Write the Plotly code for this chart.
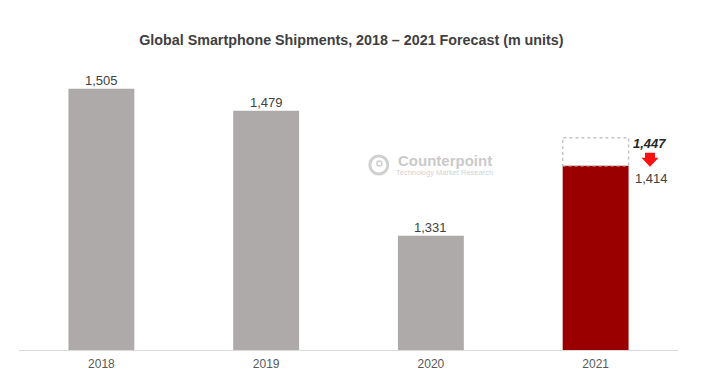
import plotly.graph_objects as go

years = ["2018", "2019", "2020", "2021"]
shipments = [1505, 1479, 1331, 1414]
bar_colors = ["#AEAAAA", "#AEAAAA", "#AEAAAA", "#9B0000"]
prior_forecast_2021 = 1447
value_labels = ["1,505", "1,479", "1,331", "1,414"]
prior_label = "1,447"

FONT = "Liberation Sans, Arial"

fig = go.Figure()
fig.add_trace(go.Bar(
    x=years, y=shipments, marker=dict(color=bar_colors, line=dict(width=0)),
    width=0.4, hoverinfo="x+y", showlegend=False,
))

# dashed box for previous forecast
fig.add_shape(type="rect", xref="x", yref="y",
              x0=3 - 0.2, x1=3 + 0.2, y0=shipments[3], y1=prior_forecast_2021,
              line=dict(color="#C4C4C4", width=1.5, dash="dot"), fillcolor="rgba(0,0,0,0)", layer="above")

# labels above bars (first three)
for i in range(3):
    fig.add_annotation(x=i, y=shipments[i], text=value_labels[i], showarrow=False, xref="x", yref="y",
                       yanchor="bottom", yshift=-1, font=dict(family=FONT, size=13, color="#404040"))

# 2021 labels to the right
fig.add_annotation(x=3.33, y=prior_forecast_2021, text="<b><i>" + prior_label + "</i></b>", showarrow=False,
                   xref="x", yref="y", yanchor="middle", yshift=-6,
                   font=dict(family=FONT, size=13, color="#262626"))
fig.add_annotation(x=3.34, y=shipments[3], text=value_labels[3], showarrow=False,
                   xref="x", yref="y", yanchor="middle", yshift=-13,
                   font=dict(family=FONT, size=13, color="#404040"))

# red block arrow
fig.add_shape(type="path", xref="x", yref="y", xsizemode="pixel", ysizemode="pixel",
              xanchor=3.33, yanchor=(shipments[3] + prior_forecast_2021) / 2,
              path="M -5 -1 L 5 -1 L 5 -6 L 8.5 -6 L 0 -15 L -8.5 -6 L -5 -6 Z",
              fillcolor="#FF1010", line=dict(width=0))

# watermark (Counterpoint logo)
fig.add_annotation(xref="paper", yref="paper", x=0.647, y=0.652, text="<b>Counterpoint</b>",
                   showarrow=False, font=dict(family=FONT, size=15, color="#CACACA"))
fig.add_annotation(xref="paper", yref="paper", x=0.645, y=0.612, text="Technology Market Research",
                   showarrow=False, font=dict(family=FONT, size=7.5, color="#D3D3D3"))
fig.add_shape(type="circle", xref="paper", yref="paper", xsizemode="pixel", ysizemode="pixel",
              xanchor=0.546, yanchor=0.638, x0=-9, x1=9, y0=-9, y1=9,
              line=dict(color="#D0D0D0", width=3), fillcolor="rgba(0,0,0,0)")
fig.add_shape(type="circle", xref="paper", yref="paper", xsizemode="pixel", ysizemode="pixel",
              xanchor=0.546, yanchor=0.638, x0=-2, x1=3, y0=-1, y1=4,
              line=dict(color="#D0D0D0", width=1.5), fillcolor="rgba(0,0,0,0)")

fig.update_layout(
    width=720, height=391,
    margin=dict(l=19, r=42, t=60, b=41, autoexpand=False),
    paper_bgcolor="white", plot_bgcolor="white",
    title=dict(text="<b>Global Smartphone Shipments, 2018 – 2021 Forecast (m units)</b>",
               x=0.488, xanchor="center", y=0.898, yanchor="middle",
               font=dict(family=FONT, size=14.3, color="#404040")),
    xaxis=dict(type="category", range=[-0.5, 3.5], showgrid=False, showline=True, automargin=False,
               linecolor="#D9D9D9", linewidth=1, ticks="", ticklabelstandoff=3,
               tickfont=dict(family=FONT, size=12, color="#595959")),
    yaxis=dict(range=[1196, 1539], visible=False),
    bargap=0.6,
)

fig.write_html("out.html", config={"displayModeBar": False},
               post_script="document.body.style.margin='0';")
